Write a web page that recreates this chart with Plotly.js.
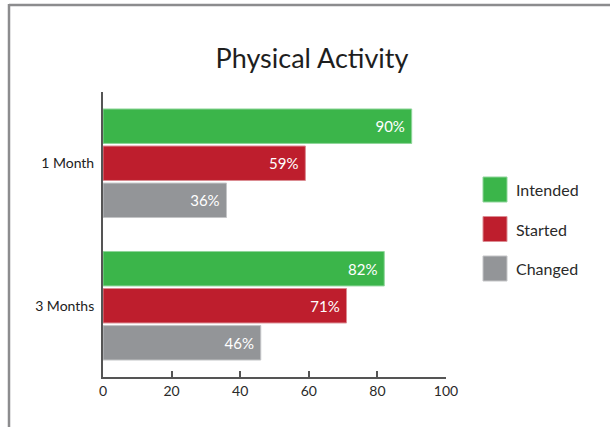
<!DOCTYPE html>
<html>
<head>
<meta charset="utf-8">
<script src="https://cdn.plot.ly/plotly-3.0.1.min.js"></script>
<style>
  html, body { margin: 0; padding: 0; background: #fff; }
  #chart { width: 610px; height: 427px; }
</style>
</head>
<body>
<div id="chart"></div>
<script>
// ---- data ----
const categories = ["1 Month", "3 Months"];
const seriesNames = ["Intended", "Started", "Changed"];
const intended = [90, 82];
const started = [59, 71];
const changed = [36, 46];
const xTicks = [0, 20, 40, 60, 80, 100];

// ---- styling ----
const colors = ["#3bb54a", "#be1e2d", "#939598"];
const edgeColors = ["#8fd59a", "#dc8c93", "#c4c5c7"];
const seriesValues = [intended, started, changed];

const traces = seriesNames.map((name, i) => ({
  type: "bar",
  orientation: "h",
  name: name,
  y: categories,
  x: seriesValues[i],
  text: seriesValues[i].map(v => v + "%\u00a0"),
  textposition: "inside",
  insidetextanchor: "end",
  textfont: { family: "Lato, 'Open Sans', sans-serif", size: 15, color: "#ffffff" },
  marker: { color: colors[i], line: { color: edgeColors[i], width: 1 } },
  hoverinfo: "x+y",
  showlegend: false
}));

// plot area geometry in pixels (for converting legend/frame positions to paper coords)
const L = 103, R = 446, T = 92, B = 377;
const px = x => (x - L) / (R - L);
const py = y => (B - y) / (B - T);

const shapes = [];
const annotations = [];

// custom legend: big square swatches
seriesNames.forEach((name, i) => {
  const top = 177 + i * 39.5;
  shapes.push({
    type: "rect", xref: "paper", yref: "paper",
    x0: px(483), x1: px(507), y0: py(top + 25), y1: py(top),
    fillcolor: colors[i], line: { color: edgeColors[i], width: 1 }
  });
  annotations.push({
    xref: "paper", yref: "paper", x: px(514), y: py(top + 12.5),
    xanchor: "left", yanchor: "middle", showarrow: false,
    text: name, font: { family: "Lato, sans-serif", size: 16, color: "#2a2a2a" }
  });
});

// outer frame (top and left edges)
shapes.push({ type: "line", xref: "paper", yref: "paper",
  x0: px(9), x1: px(612), y0: py(5), y1: py(5), line: { color: "#8c8c8e", width: 2.5 } });
shapes.push({ type: "line", xref: "paper", yref: "paper",
  x0: px(9), x1: px(9), y0: py(4), y1: py(430), line: { color: "#8c8c8e", width: 2.5 } });

const layout = {
  width: 610, height: 427,
  margin: { l: L, r: 610 - R, t: T, b: 427 - B, pad: 0 },
  paper_bgcolor: "#ffffff", plot_bgcolor: "#ffffff",
  title: {
    text: "Physical Activity",
    x: 312 / 610, xanchor: "center", xref: "container",
    y: 1 - 59 / 427, yanchor: "middle", yref: "container",
    font: { family: "Lato, sans-serif", size: 27, color: "#1e1e1e" }
  },
  barmode: "group",
  bargap: 0.22,
  bargroupgap: 0.07,
  showlegend: false,
  xaxis: {
    range: [0, 100], tickvals: xTicks, ticktext: xTicks.map(String),
    showgrid: false, zeroline: false,
    showline: true, linecolor: "#555555", linewidth: 2,
    ticks: "inside", ticklen: 6, tickwidth: 2, tickcolor: "#555555",
    tickfont: { family: "Lato, 'Open Sans', sans-serif", size: 14, color: "#2a2a2a" },
    fixedrange: true
  },
  yaxis: {
    type: "category", range: [1.5, -0.5],
    showgrid: false, zeroline: false,
    showline: true, linecolor: "#555555", linewidth: 2,
    ticks: "", ticklabelstandoff: 4,
    tickfont: { family: "Lato, 'Open Sans', sans-serif", size: 14, color: "#222222" },
    fixedrange: true
  },
  shapes: shapes,
  annotations: annotations
};

Plotly.newPlot("chart", traces, layout, { displayModeBar: false, staticPlot: true });
</script>
</body>
</html>
